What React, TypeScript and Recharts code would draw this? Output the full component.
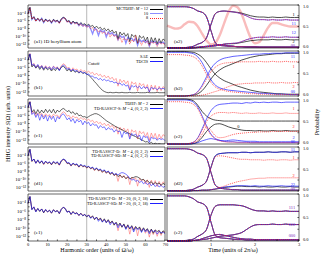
import React from 'react'
import { LineChart, Line, XAxis, YAxis, ReferenceLine, ReferenceDot } from 'recharts'

const SERIF = '"Liberation Serif", "DejaVu Serif", serif'

// harmonic orders 0..70 and time grid 0..3 (units of 2pi/omega)
const HARMONICS = Array.from({ length: 71 }, (_, i) => i)
const TIMES = Array.from({ length: 31 }, (_, i) => i / 10)

const H_TICKS = [0, 5, 10, 15, 20, 25, 30, 35, 40, 45, 50, 55, 60, 65, 70]
const LOG_TICKS = [1e-12, 1e-11, 1e-10, 1e-9, 1e-8, 1e-7, 1e-6, 1e-5, 1e-4, 1e-3]
const T_TICKS = [0, 0.5, 1, 1.5, 2, 2.5, 3]
const P_TICKS = [0, 0.25, 0.5, 0.75, 1]

// spectra, log10 of S(Omega)
const REF_M12 = [-4.2, -2.6, -5.6, -5.0, -6.1, -5.4, -6.0, -5.5, -6.4, -5.6,
  -6.2, -5.8, -6.5, -5.7, -6.1, -5.9, -6.6, -5.6, -5.1, -5.4,
  -6.2, -6.0, -6.8, -6.1, -6.6, -6.4, -7.1, -6.5, -7.0, -6.8,
  -7.3, -6.9, -7.5, -7.2, -7.9, -7.4, -8.0, -7.7, -8.4, -7.9,
  -8.6, -8.1, -8.9, -8.4, -9.2, -8.7, -10.6, -8.9, -9.7, -9.1,
  -10.0, -9.3, -11.4, -9.5, -10.1, -9.7, -11.8, -9.8, -10.5, -10.0,
  -11.2, -10.2, -12.1, -10.3, -11.5, -10.4, -11.9, -10.6, -11.7, -10.7, -11.1]
const A1_M10 = [-4.3, -2.6, -5.7, -5.1, -6.0, -5.5, -6.1, -5.4, -6.5, -5.7,
  -6.1, -5.9, -6.6, -5.8, -6.3, -6.0, -6.5, -5.7, -5.2, -5.5,
  -6.3, -6.1, -6.9, -6.3, -6.7, -6.5, -7.3, -6.7, -7.4, -7.0,
  -7.6, -7.2, -8.1, -9.4, -7.9, -8.3, -9.8, -8.4, -8.9, -8.6,
  -10.2, -8.9, -9.4, -9.1, -9.9, -9.5, -10.9, -9.8, -10.3, -10.0,
  -11.8, -10.3, -10.7, -10.5, -11.2, -10.6, -12.3, -10.8, -11.4, -11.0,
  -11.6, -11.1, -12.5, -11.2, -11.6, -11.3, -12.2, -11.4, -11.8, -11.5, -12.0]
const A1_M8 = [-4.3, -2.7, -5.6, -5.1, -6.2, -5.4, -6.1, -5.6, -6.3, -5.8,
  -6.3, -5.8, -6.4, -5.9, -6.2, -6.1, -6.7, -5.8, -5.3, -5.5,
  -6.4, -6.2, -6.7, -6.4, -6.9, -6.6, -7.2, -6.9, -7.5, -7.1,
  -7.7, -7.4, -8.0, -7.8, -8.6, -8.1, -8.9, -8.5, -9.3, -8.8,
  -9.6, -9.1, -10.2, -9.4, -10.0, -9.8, -11.0, -10.1, -11.6, -10.4,
  -11.0, -10.7, -12.0, -10.9, -11.4, -9.8, -11.6, -11.1, -12.3, -11.2,
  -11.7, -11.3, -12.4, -11.4, -11.8, -11.5, -12.6, -11.6, -12.0, -11.7, -12.3]
const B1_SAE = [-4.3, -2.8, -5.9, -5.4, -6.2, -5.6, -6.5, -5.8, -6.7, -6.0,
  -6.6, -6.2, -6.9, -6.3, -6.8, -6.1, -6.7, -6.0, -5.7, -6.2,
  -6.9, -6.4, -7.1, -6.6, -7.2, -6.9, -7.4, -7.0, -7.5, -7.3,
  -7.6, -7.9, -8.4, -8.9, -9.5, -10.0, -10.6, -11.1, -11.6, -11.9,
  -12.1, -12.2, -12.1, -12.2, -12.2, -12.1, -12.2, -12.2, -12.1, -12.2,
  -12.2, -12.2, -12.1, -12.2, -12.2, -12.2, -12.1, -12.2, -12.2, -12.2,
  -12.2, -12.1, -12.2, -12.2, -12.2, -12.2, -12.1, -12.2, -12.2, -12.2, -12.2]
const B1_TDCIS = [-4.2, -2.7, -5.5, -5.2, -6.0, -5.3, -6.2, -5.6, -6.4, -5.8,
  -6.3, -5.9, -6.6, -5.8, -6.4, -6.0, -6.8, -5.9, -5.4, -5.8,
  -6.5, -6.2, -6.9, -6.4, -7.0, -6.7, -7.3, -6.9, -7.4, -7.2,
  -7.8, -7.6, -8.2, -8.1, -8.6, -8.5, -9.0, -8.7, -9.2, -8.9,
  -9.3, -9.1, -9.5, -9.4, -9.8, -9.6, -10.1, -9.8, -10.4, -10.0,
  -10.6, -10.3, -11.6, -10.4, -10.8, -10.5, -11.0, -10.6, -11.3, -10.7,
  -11.1, -10.8, -12.0, -10.9, -11.2, -11.0, -11.5, -11.0, -11.3, -11.1, -11.4]
const C1_TDHF = [-4.0, -2.7, -5.2, -4.6, -5.6, -4.6, -5.5, -4.7, -5.4, -4.5,
  -5.3, -4.6, -5.4, -4.5, -5.5, -4.7, -5.2, -4.6, -4.3, -4.6,
  -5.1, -4.8, -5.5, -5.1, -5.8, -5.4, -6.1, -5.9, -6.4, -6.3,
  -6.6, -6.3, -6.0, -5.8, -5.6, -5.6, -5.8, -6.1, -6.5, -6.9,
  -7.3, -7.6, -7.9, -8.2, -8.5, -8.8, -9.0, -9.3, -9.5, -9.8,
  -10.0, -10.3, -10.5, -10.8, -11.0, -11.2, -11.5, -11.7, -12.0, -12.2,
  -12.5, -12.4, -12.9, -12.6, -13.0, -12.8, -13.0, -12.9, -13.0, -13.0, -13.0]
const C1_RAS_S = [-4.1, -2.7, -5.8, -5.3, -6.5, -5.6, -7.2, -5.8, -6.9, -6.0,
  -7.4, -6.1, -7.0, -6.2, -7.6, -6.3, -6.9, -6.0, -5.6, -6.2,
  -7.1, -6.6, -7.5, -6.8, -7.9, -7.0, -7.6, -7.2, -8.3, -7.4,
  -8.0, -7.7, -8.6, -8.0, -8.4, -8.3, -9.2, -8.5, -9.0, -8.8,
  -9.6, -9.0, -9.4, -9.3, -10.1, -9.5, -10.0, -9.8, -11.4, -10.0,
  -10.5, -10.2, -11.8, -10.4, -10.9, -10.6, -11.3, -10.8, -12.2, -11.0,
  -11.4, -11.2, -12.6, -11.3, -11.7, -11.5, -12.1, -11.6, -11.9, -11.7, -12.2]
const D1_RAS_D = [-4.2, -2.6, -5.6, -5.0, -6.0, -5.3, -6.1, -5.5, -6.3, -5.6,
  -6.1, -5.8, -6.4, -5.7, -6.2, -5.8, -6.5, -5.5, -5.1, -5.3,
  -6.1, -6.0, -6.7, -6.1, -6.5, -6.3, -7.0, -6.4, -6.9, -6.7,
  -7.2, -6.9, -7.4, -7.1, -7.8, -7.3, -7.9, -7.6, -8.3, -7.8,
  -8.5, -8.1, -8.8, -8.4, -9.1, -8.7, -9.4, -9.0, -9.6, -9.3,
  -9.9, -9.5, -10.0, -9.7, -9.6, -9.4, -9.5, -9.8, -10.2, -10.1,
  -10.6, -10.4, -10.9, -10.7, -11.3, -10.9, -11.2, -11.0, -11.6, -11.1, -11.4]
const D1_RAS_SD = [-4.2, -2.6, -5.5, -5.0, -6.1, -5.2, -6.0, -5.4, -6.2, -5.5,
  -6.0, -5.7, -6.3, -5.6, -6.0, -5.7, -6.4, -5.4, -5.0, -5.2,
  -6.0, -5.9, -6.6, -6.0, -6.4, -6.2, -6.9, -6.3, -6.8, -6.6,
  -7.0, -6.8, -7.3, -7.0, -7.6, -7.2, -7.7, -7.5, -8.0, -7.7,
  -8.3, -8.0, -8.6, -8.3, -8.9, -8.6, -9.0, -8.6, -8.4, -8.5,
  -8.8, -9.2, -9.8, -10.3, -10.0, -10.6, -10.3, -10.9, -10.5, -11.2,
  -10.8, -11.4, -11.0, -11.7, -11.2, -11.9, -11.4, -12.0, -11.6, -12.1, -11.8]
const E1_RAS_D = [-4.2, -2.6, -5.6, -5.1, -6.1, -5.4, -6.1, -5.5, -6.4, -5.7,
  -6.2, -5.8, -6.5, -5.7, -6.1, -5.9, -6.6, -5.6, -5.1, -5.4,
  -6.2, -6.0, -6.8, -6.1, -6.6, -6.4, -7.0, -6.5, -7.1, -6.8,
  -7.4, -6.9, -7.6, -7.1, -8.0, -7.4, -8.1, -7.6, -8.5, -7.8,
  -8.7, -8.0, -8.8, -8.3, -9.3, -8.6, -9.4, -8.8, -9.8, -9.0,
  -10.1, -9.2, -10.2, -9.4, -10.5, -9.6, -10.2, -9.7, -10.8, -9.9,
  -10.6, -10.1, -11.0, -10.2, -11.2, -10.4, -10.8, -10.5, -11.3, -10.6, -11.0]
const E1_RAS_SD = [-4.2, -2.6, -5.7, -5.0, -6.2, -5.4, -6.0, -5.5, -6.3, -5.6,
  -6.2, -5.8, -6.4, -5.7, -6.2, -5.9, -6.5, -5.6, -5.1, -5.4,
  -6.3, -6.0, -6.7, -6.2, -6.7, -6.4, -7.0, -6.6, -7.1, -6.8,
  -7.2, -7.0, -7.7, -7.3, -7.8, -7.5, -8.4, -7.8, -8.6, -8.0,
  -8.7, -8.2, -9.2, -8.5, -9.0, -8.8, -9.9, -9.0, -9.6, -9.2,
  -10.3, -9.4, -10.0, -9.6, -10.9, -9.8, -10.4, -10.0, -11.0, -10.1,
  -10.9, -10.3, -11.3, -10.4, -10.8, -10.6, -11.4, -10.7, -11.1, -10.9, -11.3]

// probabilities vs time
const A2_GROUND = [0.96, 0.96, 0.96, 0.96, 0.96, 0.95, 0.92, 0.86, 0.83, 0.72, 0.40, 0.12, 0.06, 0.05, 0.04, 0.04, 0.03, 0.03, 0.03, 0.03, 0.03, 0.02, 0.02, 0.02, 0.02, 0.02, 0.02, 0.02, 0.02, 0.02, 0.02]
const A2_UP_K = [0.01, 0.01, 0.01, 0.01, 0.01, 0.02, 0.04, 0.09, 0.13, 0.24, 0.55, 0.80, 0.85, 0.86, 0.85, 0.84, 0.83, 0.81, 0.78, 0.75, 0.73, 0.72, 0.72, 0.71, 0.72, 0.71, 0.71, 0.72, 0.71, 0.71, 0.71]
const A2_UP = [0.01, 0.01, 0.01, 0.01, 0.01, 0.02, 0.04, 0.09, 0.13, 0.24, 0.55, 0.80, 0.85, 0.86, 0.85, 0.84, 0.82, 0.79, 0.75, 0.70, 0.67, 0.66, 0.66, 0.65, 0.66, 0.65, 0.65, 0.66, 0.65, 0.65, 0.65]
const A2_LOW_K = [0, 0, 0, 0, 0, 0, 0, 0.01, 0.02, 0.03, 0.04, 0.05, 0.07, 0.09, 0.10, 0.10, 0.11, 0.13, 0.15, 0.17, 0.18, 0.19, 0.19, 0.19, 0.20, 0.19, 0.19, 0.20, 0.19, 0.19, 0.19]
const A2_LOW = [0, 0, 0, 0, 0, 0, 0, 0.01, 0.02, 0.03, 0.04, 0.05, 0.07, 0.09, 0.10, 0.11, 0.12, 0.15, 0.19, 0.22, 0.24, 0.25, 0.25, 0.25, 0.26, 0.25, 0.25, 0.26, 0.25, 0.25, 0.25]
const A2_ZERO = [0, 0, 0, 0, 0, 0, 0.01, 0.02, 0.03, 0.04, 0.05, 0.07, 0.08, 0.07, 0.05, 0.04, 0.03, 0.03, 0.02, 0.02, 0.02, 0.02, 0.02, 0.02, 0.02, 0.02, 0.02, 0.02, 0.02, 0.02, 0.02]
const A2_FIELD = [0.52, 0.48, 0.45, 0.47, 0.55, 0.61, 0.60, 0.50, 0.33, 0.17, 0.08, 0.12, 0.30, 0.58, 0.84, 0.98, 0.95, 0.78, 0.50, 0.24, 0.11, 0.14, 0.30, 0.48, 0.58, 0.58, 0.55, 0.52, 0.50, 0.50, 0.50]

const B2_GROUND_K = [0.99, 0.99, 0.99, 0.99, 0.99, 0.98, 0.97, 0.93, 0.86, 0.74, 0.60, 0.48, 0.40, 0.34, 0.30, 0.26, 0.22, 0.19, 0.16, 0.13, 0.11, 0.09, 0.08, 0.07, 0.06, 0.05, 0.05, 0.04, 0.04, 0.04, 0.04]
const B2_GROUND_B = [0.97, 0.97, 0.97, 0.97, 0.97, 0.96, 0.94, 0.87, 0.74, 0.55, 0.36, 0.24, 0.18, 0.15, 0.13, 0.12, 0.11, 0.10, 0.09, 0.08, 0.07, 0.06, 0.06, 0.05, 0.05, 0.04, 0.04, 0.04, 0.03, 0.03, 0.03]
const B2_GROUND_R = [0.92, 0.92, 0.92, 0.92, 0.91, 0.90, 0.87, 0.80, 0.66, 0.47, 0.30, 0.20, 0.15, 0.12, 0.10, 0.09, 0.08, 0.07, 0.06, 0.05, 0.05, 0.04, 0.04, 0.04, 0.03, 0.03, 0.03, 0.03, 0.03, 0.03, 0.03]
const B2_UP_K = [0, 0, 0, 0, 0, 0.01, 0.02, 0.05, 0.12, 0.24, 0.38, 0.50, 0.58, 0.64, 0.68, 0.72, 0.76, 0.80, 0.83, 0.86, 0.88, 0.90, 0.91, 0.92, 0.93, 0.94, 0.94, 0.95, 0.95, 0.95, 0.95]
const B2_UP_B = [0, 0, 0, 0, 0, 0.01, 0.03, 0.10, 0.24, 0.43, 0.61, 0.73, 0.80, 0.84, 0.86, 0.88, 0.89, 0.90, 0.91, 0.92, 0.93, 0.93, 0.94, 0.94, 0.95, 0.95, 0.95, 0.96, 0.96, 0.96, 0.96]
const B2_UP_R = [0, 0, 0, 0, 0, 0.01, 0.03, 0.09, 0.21, 0.38, 0.54, 0.64, 0.70, 0.73, 0.74, 0.75, 0.75, 0.76, 0.76, 0.76, 0.76, 0.77, 0.76, 0.76, 0.77, 0.76, 0.76, 0.77, 0.76, 0.76, 0.76]
const B2_TWO_R = [0, 0, 0, 0, 0, 0, 0, 0.01, 0.02, 0.04, 0.07, 0.10, 0.13, 0.17, 0.21, 0.24, 0.26, 0.27, 0.28, 0.28, 0.29, 0.29, 0.29, 0.30, 0.29, 0.29, 0.30, 0.29, 0.29, 0.30, 0.29]

const C2_GROUND_K = [1.0, 1.0, 1.0, 1.0, 1.0, 0.99, 0.96, 0.86, 0.72, 0.62, 0.56, 0.53, 0.52, 0.51, 0.51, 0.51, 0.51, 0.51, 0.51, 0.51, 0.51, 0.51, 0.51, 0.51, 0.51, 0.51, 0.51, 0.51, 0.51, 0.51, 0.51]
const C2_GROUND_B = [0.98, 0.98, 0.98, 0.98, 0.98, 0.97, 0.93, 0.82, 0.62, 0.40, 0.22, 0.12, 0.08, 0.06, 0.05, 0.05, 0.04, 0.04, 0.04, 0.03, 0.03, 0.03, 0.03, 0.03, 0.03, 0.03, 0.03, 0.03, 0.03, 0.03, 0.03]
const C2_GROUND_R = [0.94, 0.94, 0.94, 0.94, 0.93, 0.92, 0.88, 0.78, 0.58, 0.36, 0.20, 0.11, 0.07, 0.05, 0.04, 0.04, 0.03, 0.03, 0.03, 0.03, 0.03, 0.03, 0.03, 0.03, 0.03, 0.03, 0.03, 0.03, 0.03, 0.03, 0.03]
const C2_X_K = [0, 0, 0, 0, 0, 0, 0.01, 0.05, 0.15, 0.28, 0.38, 0.44, 0.45, 0.42, 0.38, 0.35, 0.33, 0.31, 0.30, 0.30, 0.29, 0.30, 0.29, 0.29, 0.30, 0.29, 0.29, 0.30, 0.29, 0.29, 0.29]
const C2_UP_B = [0, 0, 0, 0, 0, 0.01, 0.04, 0.14, 0.34, 0.56, 0.74, 0.84, 0.88, 0.89, 0.90, 0.91, 0.91, 0.90, 0.92, 0.91, 0.93, 0.92, 0.93, 0.92, 0.93, 0.93, 0.92, 0.93, 0.93, 0.93, 0.93]
const C2_UP_R = [0, 0, 0, 0, 0, 0.01, 0.04, 0.13, 0.31, 0.50, 0.62, 0.68, 0.70, 0.70, 0.69, 0.70, 0.69, 0.68, 0.69, 0.68, 0.68, 0.69, 0.68, 0.68, 0.69, 0.68, 0.68, 0.69, 0.68, 0.68, 0.68]
const C2_TWO_R = [0, 0, 0, 0, 0, 0.01, 0.03, 0.08, 0.22, 0.38, 0.30, 0.18, 0.14, 0.15, 0.18, 0.21, 0.23, 0.24, 0.25, 0.26, 0.26, 0.27, 0.27, 0.27, 0.28, 0.28, 0.28, 0.28, 0.28, 0.28, 0.28]
const C2_TWO_B = [0, 0, 0, 0, 0, 0, 0.01, 0.03, 0.07, 0.10, 0.12, 0.10, 0.08, 0.07, 0.08, 0.09, 0.08, 0.07, 0.06, 0.06, 0.06, 0.05, 0.05, 0.05, 0.05, 0.05, 0.05, 0.05, 0.05, 0.05, 0.05]

const D2_GROUND = [0.96, 0.96, 0.96, 0.96, 0.96, 0.95, 0.92, 0.86, 0.83, 0.74, 0.42, 0.13, 0.07, 0.05, 0.04, 0.03, 0.03, 0.02, 0.02, 0.02, 0.02, 0.02, 0.02, 0.02, 0.02, 0.02, 0.02, 0.02, 0.02, 0.02, 0.02]
const D2_UP = [0.01, 0.01, 0.01, 0.01, 0.01, 0.02, 0.04, 0.09, 0.13, 0.23, 0.54, 0.80, 0.85, 0.86, 0.87, 0.87, 0.87, 0.88, 0.88, 0.87, 0.88, 0.88, 0.88, 0.89, 0.88, 0.88, 0.89, 0.89, 0.88, 0.89, 0.89]
const D2_UP_R = [0.01, 0.01, 0.01, 0.01, 0.01, 0.02, 0.04, 0.09, 0.13, 0.23, 0.53, 0.78, 0.80, 0.79, 0.77, 0.75, 0.73, 0.72, 0.72, 0.71, 0.71, 0.71, 0.70, 0.71, 0.71, 0.70, 0.71, 0.71, 0.70, 0.71, 0.71]
const D2_TWO_R = [0, 0, 0, 0, 0, 0, 0.01, 0.01, 0.02, 0.02, 0.03, 0.05, 0.08, 0.11, 0.15, 0.18, 0.21, 0.23, 0.25, 0.27, 0.28, 0.29, 0.29, 0.30, 0.30, 0.30, 0.30, 0.30, 0.30, 0.30, 0.30]
const D2_LOW = [0, 0, 0, 0, 0, 0, 0.01, 0.01, 0.02, 0.02, 0.03, 0.05, 0.07, 0.09, 0.10, 0.11, 0.12, 0.12, 0.12, 0.11, 0.12, 0.11, 0.11, 0.12, 0.11, 0.11, 0.12, 0.11, 0.11, 0.11, 0.11]
const D2_LOW_K = [0, 0, 0, 0, 0, 0, 0.01, 0.01, 0.02, 0.02, 0.03, 0.04, 0.06, 0.08, 0.09, 0.10, 0.11, 0.11, 0.10, 0.10, 0.10, 0.09, 0.10, 0.09, 0.09, 0.10, 0.09, 0.09, 0.10, 0.09, 0.09]

const E2_GROUND = [0.96, 0.96, 0.96, 0.96, 0.96, 0.94, 0.90, 0.83, 0.80, 0.72, 0.40, 0.12, 0.07, 0.06, 0.05, 0.04, 0.03, 0.03, 0.02, 0.02, 0.02, 0.02, 0.02, 0.02, 0.02, 0.02, 0.02, 0.02, 0.02, 0.02, 0.02]
const E2_UP = [0.01, 0.01, 0.01, 0.01, 0.01, 0.02, 0.04, 0.10, 0.15, 0.25, 0.55, 0.74, 0.77, 0.77, 0.77, 0.77, 0.76, 0.75, 0.72, 0.68, 0.65, 0.64, 0.64, 0.63, 0.64, 0.63, 0.63, 0.64, 0.63, 0.63, 0.63]
const E2_LOW = [0, 0, 0, 0, 0, 0, 0.01, 0.02, 0.03, 0.04, 0.06, 0.08, 0.10, 0.11, 0.12, 0.13, 0.15, 0.18, 0.24, 0.30, 0.34, 0.35, 0.35, 0.35, 0.36, 0.35, 0.35, 0.36, 0.35, 0.35, 0.35]
const E2_ZERO = [0, 0, 0, 0, 0, 0, 0.01, 0.02, 0.05, 0.08, 0.11, 0.13, 0.14, 0.12, 0.10, 0.08, 0.06, 0.05, 0.04, 0.04, 0.03, 0.03, 0.03, 0.03, 0.03, 0.03, 0.03, 0.03, 0.03, 0.03, 0.03]

const BLACK = '#000000'
const BLUE = '#1f1fff'
const LIGHTBLUE = '#8c8cff'
const RED = '#ff2a2a'
const LIGHTRED = '#ff6e6e'
const PINK = '#f9bcbc'
const PURPLE = '#7a2bb8'

type S = { values: number[]; color: string; width: number; dash?: string }
type Mark = { text: string; color: string; t: number; p: number }

// row geometry (page pixels)
const ROW_TOP = [5, 51, 99, 147, 194]
const ROW_H = [43, 45, 45, 44, 47]

const SUP: Record<string, string> = { '0': '\u2070', '1': '\u00b9', '2': '\u00b2', '3': '\u00b3', '4': '\u2074', '5': '\u2075', '6': '\u2076', '7': '\u2077', '8': '\u2078', '9': '\u2079', '-': '\u207b' }

function logLabel(v: number) {
  const e = Math.round(Math.log10(v))
  if (Math.abs(e) % 2 === 1) return ''
  return '10' + String(e).split('').map((c) => SUP[c]).join('')
}

function Txt({ x, y, size = 4.5, color = '#000', align = 'left', rotate = 0, children }: any) {
  const tx = align === 'right' ? '-100%' : align === 'center' ? '-50%' : '0'
  return (
    <div style={{ position: 'absolute', left: x, top: y, transform: `translate(${tx}, -50%)${rotate ? ` rotate(${rotate}deg)` : ''}`, fontSize: size, lineHeight: 1, color, whiteSpace: 'nowrap', fontFamily: SERIF }}>
      {children}
    </div>
  )
}

function Sample({ y, color, width, dash }: any) {
  return <div style={{ position: 'absolute', left: 150, top: y - width / 2, width: 13, borderTop: `${width}px ${dash ? 'dotted' : 'solid'} ${color}` }} />
}

function HTick({ x, y, payload }: any) {
  if (payload.value % 10 !== 0) return null
  return <text x={x} y={y} textAnchor="middle" dominantBaseline="hanging" fontSize={4.4} fontFamily={SERIF} fill="#000">{payload.value}</text>
}

function TTick({ x, y, payload }: any) {
  if (payload.value % 1 !== 0) return null
  return <text x={x} y={y} textAnchor="middle" dominantBaseline="hanging" fontSize={4.4} fontFamily={SERIF} fill="#000">{payload.value}</text>
}

function PTick({ x, y, payload }: any) {
  const v = payload.value
  if (v !== 0 && v !== 0.5 && v !== 1) return null
  const dy = v === 0 ? -1.8 : v === 1 ? 1.2 : 0
  return <text x={x} y={y + dy} textAnchor="start" dominantBaseline="central" fontSize={4.4} fontFamily={SERIF} fill="#000">{v.toFixed(1)}</text>
}

function SpectrumPanel({ row, series, bottom }: { row: number; series: S[]; bottom?: boolean }) {
  const data = HARMONICS.map((h, i) => {
    const r: Record<string, number> = { h }
    series.forEach((s, k) => { r['s' + k] = Math.pow(10, s.values[i]) })
    return r
  })
  const axisH = bottom ? 9 : 1
  return (
    <div style={{ position: 'absolute', left: 0, top: ROW_TOP[row] - 1 }}>
      <LineChart width={166} height={ROW_H[row] + 1 + axisH} data={data} margin={{ top: 0, right: 0, bottom: 0, left: 0 }}>
        <XAxis xAxisId="top" orientation="top" type="number" domain={[0, 70]} ticks={H_TICKS} interval={0} height={1} tickSize={-1.6} tick={false} stroke="#000" strokeWidth={0.6} />
        <XAxis dataKey="h" type="number" domain={[0, 70]} ticks={H_TICKS} interval={0} height={axisH} tickSize={-1.6} tickMargin={3.2} tick={bottom ? <HTick /> : false} stroke="#000" strokeWidth={0.6} />
        <YAxis scale="log" type="number" domain={[1e-13, 1e-2]} allowDataOverflow ticks={LOG_TICKS} interval={0} width={28} tickSize={-1.6} tickMargin={3.6}
          tickFormatter={logLabel} tick={{ fontSize: 4.8, fill: '#000', fontFamily: SERIF }} stroke="#000" strokeWidth={0.6} />
        <YAxis yAxisId="r" orientation="right" scale="log" type="number" domain={[1e-13, 1e-2]} allowDataOverflow ticks={LOG_TICKS} interval={0} width={1} tickSize={-1.6} tick={false} stroke="#000" strokeWidth={0.6} />
        <ReferenceLine x={30} stroke="#8a8a8a" strokeWidth={0.6} />
        {series.map((s, k) => (
          <Line key={k} dataKey={'s' + k} type="linear" stroke={s.color} strokeWidth={s.width} strokeDasharray={s.dash} dot={false} isAnimationActive={false} />
        ))}
      </LineChart>
    </div>
  )
}

function ProbPanel({ row, series, marks, bottom }: { row: number; series: S[]; marks: Mark[]; bottom?: boolean }) {
  const data = TIMES.map((t, i) => {
    const r: Record<string, number> = { t }
    series.forEach((s, k) => { r['s' + k] = s.values[i] })
    return r
  })
  const axisH = bottom ? 9 : 1
  return (
    <div style={{ position: 'absolute', left: 166, top: ROW_TOP[row] - 1 }}>
      <LineChart width={155} height={ROW_H[row] + 1 + axisH} data={data} margin={{ top: 0, right: 0, bottom: 0, left: 0 }}>
        <XAxis xAxisId="top" orientation="top" type="number" domain={[0, 3]} ticks={T_TICKS} interval={0} height={1} tickSize={-1.6} tick={false} stroke="#000" strokeWidth={0.6} />
        <XAxis dataKey="t" type="number" domain={[0, 3]} ticks={T_TICKS} interval={0} height={axisH} tickSize={-1.6} tickMargin={3.2} tick={bottom ? <TTick /> : false} stroke="#000" strokeWidth={0.6} />
        <YAxis yAxisId="l" orientation="left" type="number" domain={[0, 1]} ticks={P_TICKS} interval={0} width={1} tickSize={-1.6} tick={false} stroke="#000" strokeWidth={0.6} />
        <YAxis orientation="right" type="number" domain={[0, 1]} ticks={P_TICKS} interval={0} width={22} tickSize={-1.6} tickMargin={5.5} tick={<PTick />} stroke="#000" strokeWidth={0.6} />
        {series.map((s, k) => (
          <Line key={k} dataKey={'s' + k} type="monotone" stroke={s.color} strokeWidth={s.width} strokeDasharray={s.dash} dot={false} isAnimationActive={false} />
        ))}
        {marks.map((m, k) => (
          <ReferenceDot key={'m' + k} x={m.t} y={m.p} r={0} fill="none" stroke="none" ifOverflow="visible"
            label={{ value: m.text, fill: m.color, fontSize: 4.4, fontFamily: SERIF, position: 'center' }} />
        ))}
      </LineChart>
    </div>
  )
}

const DOT = '1.1 0.9'

export default function App() {
  return (
    <div style={{ position: 'absolute', left: 0, top: 0, width: 322, height: 254, background: '#fff', overflow: 'hidden', fontFamily: SERIF }}>
      <SpectrumPanel row={0} series={[
        { values: A1_M10, color: LIGHTBLUE, width: 1.3 },
        { values: REF_M12, color: BLACK, width: 0.6 },
        { values: A1_M8, color: RED, width: 0.7, dash: DOT },
      ]} />
      <SpectrumPanel row={1} series={[
        { values: REF_M12, color: LIGHTRED, width: 0.6 },
        { values: B1_SAE, color: BLACK, width: 0.6 },
        { values: B1_TDCIS, color: BLUE, width: 0.6 },
      ]} />
      <SpectrumPanel row={2} series={[
        { values: REF_M12, color: LIGHTRED, width: 0.6 },
        { values: C1_TDHF, color: BLACK, width: 0.6 },
        { values: C1_RAS_S, color: BLUE, width: 0.6 },
      ]} />
      <SpectrumPanel row={3} series={[
        { values: REF_M12, color: LIGHTRED, width: 0.6 },
        { values: D1_RAS_D, color: BLACK, width: 0.6 },
        { values: D1_RAS_SD, color: BLUE, width: 0.6 },
      ]} />
      <SpectrumPanel row={4} bottom series={[
        { values: REF_M12, color: LIGHTRED, width: 0.6 },
        { values: E1_RAS_D, color: BLACK, width: 0.6 },
        { values: E1_RAS_SD, color: BLUE, width: 0.6 },
      ]} />

      <ProbPanel row={0} series={[
        { values: A2_FIELD, color: PINK, width: 2.4 },
        { values: A2_GROUND, color: BLACK, width: 0.7 },
        { values: A2_UP_K, color: BLACK, width: 0.7 },
        { values: A2_LOW_K, color: BLACK, width: 0.7 },
        { values: A2_ZERO, color: BLACK, width: 0.7 },
        { values: A2_GROUND, color: BLUE, width: 0.7 },
        { values: A2_UP, color: BLUE, width: 0.7 },
        { values: A2_LOW, color: BLUE, width: 0.7 },
        { values: A2_ZERO, color: BLUE, width: 0.7 },
        { values: A2_GROUND, color: RED, width: 0.7, dash: DOT },
        { values: A2_UP, color: RED, width: 0.7, dash: DOT },
        { values: A2_LOW, color: RED, width: 0.7, dash: DOT },
        { values: A2_ZERO, color: RED, width: 0.7, dash: DOT },
      ]} marks={[
        { text: '1', color: BLACK, t: 2.88, p: 0.79 },
        { text: '11', color: BLUE, t: 2.88, p: 0.56 },
        { text: '12', color: BLUE, t: 2.88, p: 0.36 },
        { text: '2', color: BLACK, t: 2.88, p: 0.15 },
        { text: '00', color: PURPLE, t: 2.86, p: 0.07 },
      ]} />
      <ProbPanel row={1} series={[
        { values: B2_GROUND_K, color: BLACK, width: 0.7 },
        { values: B2_UP_K, color: BLACK, width: 0.7 },
        { values: B2_GROUND_B, color: BLUE, width: 0.7 },
        { values: B2_UP_B, color: BLUE, width: 0.7 },
        { values: B2_GROUND_R, color: RED, width: 0.7, dash: DOT },
        { values: B2_UP_R, color: RED, width: 0.7, dash: DOT },
        { values: B2_TWO_R, color: RED, width: 0.7, dash: DOT },
      ]} marks={[
        { text: '11', color: BLUE, t: 2.86, p: 0.87 },
        { text: '1', color: RED, t: 2.88, p: 0.66 },
        { text: '2', color: RED, t: 2.88, p: 0.21 },
        { text: '00', color: BLUE, t: 2.86, p: 0.1 },
      ]} />
      <ProbPanel row={2} series={[
        { values: C2_GROUND_K, color: BLACK, width: 0.7 },
        { values: C2_X_K, color: BLACK, width: 0.7 },
        { values: C2_GROUND_B, color: BLUE, width: 0.7 },
        { values: C2_UP_B, color: BLUE, width: 0.7 },
        { values: C2_TWO_B, color: BLUE, width: 0.7 },
        { values: C2_GROUND_R, color: RED, width: 0.7, dash: DOT },
        { values: C2_UP_R, color: RED, width: 0.7, dash: DOT },
        { values: C2_TWO_R, color: RED, width: 0.7, dash: DOT },
      ]} marks={[
        { text: '1', color: RED, t: 2.88, p: 0.78 },
        { text: '0', color: BLACK, t: 1.62, p: 0.38 },
        { text: '2', color: RED, t: 2.88, p: 0.38 },
        { text: '2', color: BLUE, t: 2.88, p: 0.15 },
        { text: '00', color: BLUE, t: 2.86, p: 0.05 },
      ]} />
      <ProbPanel row={3} series={[
        { values: D2_GROUND, color: BLACK, width: 0.7 },
        { values: D2_UP, color: BLACK, width: 0.7 },
        { values: D2_LOW_K, color: BLACK, width: 0.7 },
        { values: D2_GROUND, color: BLUE, width: 0.7 },
        { values: D2_UP, color: BLUE, width: 0.7 },
        { values: D2_LOW, color: BLUE, width: 0.7 },
        { values: D2_GROUND, color: RED, width: 0.7, dash: DOT },
        { values: D2_UP_R, color: RED, width: 0.7, dash: DOT },
        { values: D2_TWO_R, color: RED, width: 0.7, dash: DOT },
      ]} marks={[
        { text: '11', color: BLUE, t: 2.86, p: 0.95 },
        { text: '1', color: RED, t: 2.88, p: 0.76 },
        { text: '2', color: RED, t: 2.88, p: 0.36 },
        { text: '22', color: BLUE, t: 2.86, p: 0.15 },
        { text: '00', color: PURPLE, t: 2.86, p: 0.05 },
      ]} />
      <ProbPanel row={4} bottom series={[
        { values: E2_GROUND, color: BLACK, width: 0.7 },
        { values: E2_UP, color: BLACK, width: 0.7 },
        { values: E2_LOW, color: BLACK, width: 0.7 },
        { values: E2_ZERO, color: BLACK, width: 0.7 },
        { values: E2_GROUND, color: BLUE, width: 0.7 },
        { values: E2_UP, color: BLUE, width: 0.7 },
        { values: E2_LOW, color: BLUE, width: 0.7 },
        { values: E2_ZERO, color: BLUE, width: 0.7 },
        { values: E2_GROUND, color: RED, width: 0.7, dash: DOT },
        { values: E2_UP, color: RED, width: 0.7, dash: DOT },
        { values: E2_LOW, color: RED, width: 0.7, dash: DOT },
        { values: E2_ZERO, color: RED, width: 0.7, dash: DOT },
      ]} marks={[
        { text: '111', color: PURPLE, t: 2.84, p: 0.72 },
        { text: '222', color: PURPLE, t: 2.84, p: 0.35 },
        { text: '000', color: PURPLE, t: 2.84, p: 0.12 },
      ]} />

      {/* panel letters */}
      <Txt x={34} y={41} size={5}>(a1) 1D beryllium atom</Txt>
      <Txt x={34} y={87} size={5}>(b1)</Txt>
      <Txt x={34} y={135} size={5}>(c1)</Txt>
      <Txt x={34} y={183} size={5}>(d1)</Txt>
      <Txt x={34} y={232} size={5}>(e1)</Txt>
      <Txt x={174} y={41} size={5}>(a2)</Txt>
      <Txt x={174} y={88} size={5}>(b2)</Txt>
      <Txt x={174} y={136} size={5}>(c2)</Txt>
      <Txt x={174} y={183} size={5}>(d2)</Txt>
      <Txt x={174} y={232} size={5}>(e2)</Txt>
      <Txt x={88} y={64} size={4.4}>Cutoff</Txt>

      {/* legends */}
      <Txt x={148} y={9} size={4.2} align="right">MCTDHF: <i>M</i> = 12</Txt>
      <Sample y={9} color={BLACK} width={0.7} />
      <Txt x={148} y={13.5} size={4.2} align="right">10</Txt>
      <Sample y={13.5} color={LIGHTBLUE} width={1.4} />
      <Txt x={148} y={18} size={4.2} align="right">8</Txt>
      <Sample y={18} color={RED} width={0.8} dash />

      <Txt x={148} y={57} size={4.2} align="right">SAE</Txt>
      <Sample y={57} color={BLACK} width={0.7} />
      <Txt x={148} y={61.5} size={4.2} align="right">TDCIS</Txt>
      <Sample y={61.5} color={BLUE} width={0.7} />

      <Txt x={148} y={104} size={4.2} align="right">TDHF: <i>M</i> = 2</Txt>
      <Sample y={104} color={BLACK} width={0.7} />
      <Txt x={148} y={108.5} size={4.2} align="right">TD-RASSCF-S: <i>M</i> = 4, (0, 2, 2)</Txt>
      <Sample y={108.5} color={BLUE} width={0.7} />

      <Txt x={148} y={151.5} size={4.2} align="right">TD-RASSCF-D: &nbsp;<i>M</i> = 4, (0, 2, 2)</Txt>
      <Sample y={151.5} color={BLACK} width={0.7} />
      <Txt x={148} y={156} size={4.2} align="right">TD-RASSCF-SD: <i>M</i> = 4, (0, 2, 2)</Txt>
      <Sample y={156} color={BLUE} width={0.7} />

      <Txt x={148} y={199} size={4.2} align="right">TD-RASSCF-D: &nbsp;<i>M</i> = 20, (0, 2, 18)</Txt>
      <Sample y={199} color={BLACK} width={0.7} />
      <Txt x={148} y={203.5} size={4.2} align="right">TD-RASSCF-SD: <i>M</i> = 20, (0, 2, 18)</Txt>
      <Sample y={203.5} color={BLUE} width={0.7} />

      {/* axis titles */}
      <Txt x={8} y={124} size={6} align="center" rotate={-90}>HHG intensity <i>S</i>(Ω) (arb. units)</Txt>
      <Txt x={317} y={122} size={6} align="center" rotate={-90}>Probability</Txt>
      <Txt x={97} y={250} size={6} align="center">Harmonic order (units of Ω/ω)</Txt>
      <Txt x={233} y={250} size={6} align="center">Time (units of 2π/ω)</Txt>
    </div>
  )
}
